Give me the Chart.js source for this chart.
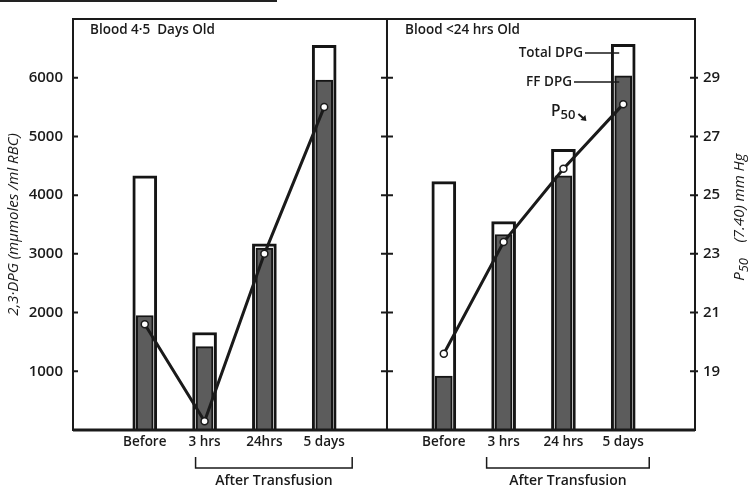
<!DOCTYPE html>
<html>
<head>
<meta charset="utf-8">
<script src="https://cdn.jsdelivr.net/npm/chart.js@4.4.0/dist/chart.umd.min.js"></script>
<style>
  body { margin: 0; background: #fff; }
  #wrap { position: relative; width: 751px; height: 490px; }
  #rule { position: absolute; left: 0; top: 0; width: 277px; height: 2px; background: #222; }
</style>
</head>
<body>
<div id="wrap">
  <canvas id="myChart" width="751" height="490"></canvas>
  <div id="rule"></div>
</div>
<script>
// Categorias de cada painel
const leftLabels = ['Before', '3 hrs', '24hrs', '5 days'];
const rightLabels = ['Before', '3 hrs', '24 hrs', '5 days'];

// Sangue de 4-5 dias
const totalDpgOld = [4330, 1660, 3170, 6550];
const ffDpgOld = [1950, 1420, 3100, 5960];
const p50Old = [20.6, 17.3, 23.0, 28.0];

// Sangue com menos de 24 horas
const totalDpgFresh = [4230, 3550, 4780, 6570];
const ffDpgFresh = [920, 3330, 4330, 6030];
const p50Fresh = [19.6, 23.4, 25.9, 28.1];

// Marcas dos eixos
const dpgTicks = [1000, 2000, 3000, 4000, 5000, 6000];
const p50Ticks = [19, 21, 23, 25, 27, 29];

// Posições no eixo x: painel direito começa depois de um espaço
const leftX = leftLabels.map((_, i) => i);
const rightX = rightLabels.map((_, i) => i + 5);
const allX = leftX.concat(rightX);
const allLabels = leftLabels.concat(rightLabels);
const dividerX = 4.05;

const FONT = '"Open Sans", "Liberation Sans", sans-serif';
const W = '600 ';
const INK = '#1a1a1a';

function pontos(xs, ys) {
    return xs.map((x, i) => ({ x: x, y: ys[i] }));
}

// Texto com índice "50" (P50)
function textoP50(ctx, x, y, size) {
    ctx.font = W + size + 'px ' + FONT;
    ctx.fillText('P', x, y);
    let w = ctx.measureText('P').width;
    ctx.font = W + Math.round(size * 0.85) + 'px ' + FONT;
    ctx.fillText('50', x + w, y + size * 0.2);
    w += ctx.measureText('50').width;
    return w;
}

// Moldura, divisória, marcas, anotações e chaves
const molduraPlugin = {
    id: 'moldura',
    afterDatasetsDraw(chart) {
        const ctx = chart.ctx;
        const a = chart.chartArea;
        const xs = chart.scales.x, y = chart.scales.y, y1 = chart.scales.y1;
        const d = xs.getPixelForValue(dividerX);
        ctx.save();
        ctx.strokeStyle = INK;
        ctx.fillStyle = INK;
        ctx.lineWidth = 2;
        ctx.strokeRect(a.left, a.top, a.right - a.left, a.bottom - a.top);
        ctx.lineWidth = 3;
        ctx.beginPath();
        ctx.moveTo(a.left, a.bottom);
        ctx.lineTo(a.right, a.bottom);
        ctx.stroke();
        ctx.lineWidth = 2;
        ctx.beginPath();
        ctx.moveTo(d, a.top);
        ctx.lineTo(d, a.bottom);
        dpgTicks.forEach(v => {
            const py = y.getPixelForValue(v);
            ctx.moveTo(a.left, py); ctx.lineTo(a.left + 5, py);
            ctx.moveTo(d - 6, py); ctx.lineTo(d + 6, py);
        });
        p50Ticks.forEach(v => {
            const py = y1.getPixelForValue(v);
            ctx.moveTo(a.right - 5, py); ctx.lineTo(a.right + 3, py);
        });
        ctx.stroke();

        // títulos dos painéis
        ctx.textBaseline = 'middle';
        ctx.textAlign = 'left';
        ctx.font = W + '13.5px ' + FONT;
        ctx.fillText('Blood 4\u00b75  Days Old', a.left + 17, 30);
        ctx.fillText('Blood <24 hrs Old', d + 18, 30);

        // legenda com linhas até a barra
        const bx = xs.getPixelForValue(rightX[3]);
        ctx.textAlign = 'right';
        ctx.fillText('Total DPG', 583, 53);
        ctx.fillText('FF DPG', 572, 82);
        ctx.lineWidth = 1.5;
        ctx.beginPath();
        ctx.moveTo(585, 53); ctx.lineTo(bx - 4, 53);
        ctx.moveTo(574, 82); ctx.lineTo(bx - 4, 82);
        ctx.stroke();
        ctx.textAlign = 'left';
        const w = textoP50(ctx, 551, 112, 15.5);
        // seta pequena
        const ax = 551 + w + 3, ay = 114;
        ctx.lineWidth = 2;
        ctx.beginPath();
        ctx.moveTo(ax, ay); ctx.lineTo(ax + 6, ay + 5);
        ctx.stroke();
        ctx.beginPath();
        ctx.moveTo(ax + 8, ay + 7); ctx.lineTo(ax + 2, ay + 6); ctx.lineTo(ax + 7, ay + 1);
        ctx.closePath();
        ctx.fill();

        // chaves "After Transfusion"
        ctx.lineWidth = 1.5;
        ctx.font = W + '14px ' + FONT;
        ctx.textAlign = 'center';
        [[leftX, -9, 28], [rightX, -17, 26]].forEach(([px, l, r]) => {
            const x0 = xs.getPixelForValue(px[1]) + l;
            const x1 = xs.getPixelForValue(px[3]) + r;
            ctx.beginPath();
            ctx.moveTo(x0, 457); ctx.lineTo(x0, 468); ctx.lineTo(x1, 468); ctx.lineTo(x1, 457);
            ctx.stroke();
            ctx.fillText('After Transfusion', (x0 + x1) / 2, 481);
        });

        // título do eixo direito
        ctx.translate(740, 216);
        ctx.rotate(-Math.PI / 2);
        ctx.font = 'italic 500 15px ' + FONT;
        const tw = ctx.measureText('P50    (7.40) mm Hg').width;
        ctx.textAlign = 'left';
        ctx.fillText('P', -tw / 2, 0);
        const pw = ctx.measureText('P').width;
        ctx.font = 'italic 500 13px ' + FONT;
        ctx.fillText('50', -tw / 2 + pw, 4);
        const sw = ctx.measureText('50').width;
        ctx.font = 'italic 500 15px ' + FONT;
        ctx.fillText('    (7.40) mm Hg', -tw / 2 + pw + sw, 0);
        ctx.restore();
    }
};

const ctx = document.getElementById('myChart').getContext('2d');
const myChart = new Chart(ctx, {
    type: 'bar',
    data: {
        datasets: [{
            type: 'line',
            label: 'P50 4-5 days',
            data: pontos(leftX, p50Old),
            yAxisID: 'y1',
            order: 0
        }, {
            type: 'line',
            label: 'P50 <24 hrs',
            data: pontos(rightX, p50Fresh),
            yAxisID: 'y1',
            order: 0
        }, {
            label: 'FF DPG',
            data: pontos(allX, ffDpgOld.concat(ffDpgFresh)),
            backgroundColor: '#5c5c5c',
            borderColor: '#151515',
            borderWidth: 2,
            barThickness: 17,
            grouped: false,
            order: 1
        }, {
            label: 'Total DPG',
            data: pontos(allX, totalDpgOld.concat(totalDpgFresh)),
            backgroundColor: '#ffffff',
            borderColor: '#151515',
            borderWidth: 3,
            barThickness: 24,
            grouped: false,
            order: 2
        }]
    },
    options: {
        responsive: false,
        animation: false,
        layout: { padding: { top: 9, left: 0, right: 0, bottom: 0 } },
        elements: {
            line: { borderColor: INK, borderWidth: 3, tension: 0 },
            point: { radius: 3.5, backgroundColor: '#fff', borderColor: INK, borderWidth: 1.5 }
        },
        plugins: {
            legend: { display: false },
            tooltip: { enabled: false }
        },
        scales: {
            x: {
                type: 'linear',
                offset: false,
                min: -1.2,
                max: 9.2,
                afterFit: s => { s.height = 60; },
                afterBuildTicks: s => { s.ticks = allX.map(v => ({ value: v })); },
                ticks: {
                    autoSkip: false,
                    maxRotation: 0,
                    padding: 4,
                    color: INK,
                    font: { family: FONT, size: 13.5, weight: '600' },
                    callback: v => {
                        const i = allX.indexOf(v);
                        return i >= 0 ? allLabels[i] : '';
                    }
                },
                grid: { display: false, drawTicks: false },
                border: { display: false }
            },
            y: {
                position: 'left',
                min: 0,
                max: 7000,
                afterFit: s => { s.width = 73; },
                afterBuildTicks: s => { s.ticks = dpgTicks.map(v => ({ value: v })); },
                ticks: {
                    padding: 10,
                    color: INK,
                    font: { family: FONT, size: 15, weight: '600' },
                    callback: v => String(v)
                },
                title: {
                    display: true,
                    text: '2,3\u00b7DPG (m\u03bcmoles /ml RBC)',
                    color: INK,
                    font: { family: FONT, size: 15, style: 'italic', weight: '500' },
                    padding: { top: 5, bottom: 0 }
                },
                grid: { display: false, drawTicks: false },
                border: { display: false }
            },
            y1: {
                position: 'right',
                min: 17,
                max: 31,
                afterFit: s => { s.width = 56; },
                afterBuildTicks: s => { s.ticks = p50Ticks.map(v => ({ value: v })); },
                ticks: {
                    padding: 8,
                    color: INK,
                    font: { family: FONT, size: 15, weight: '600' }
                },
                grid: { display: false, drawTicks: false },
                border: { display: false }
            }
        }
    },
    plugins: [molduraPlugin]
});
</script>
</body>
</html>
